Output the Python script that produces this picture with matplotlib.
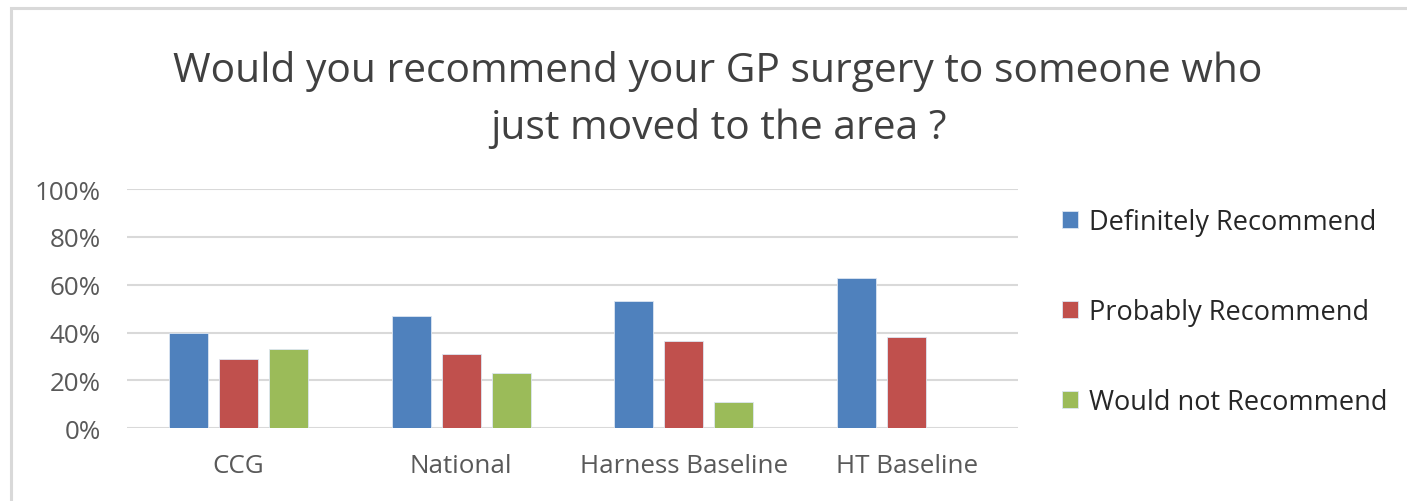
import numpy as np
import matplotlib
matplotlib.use("Agg")
import matplotlib.pyplot as plt
from matplotlib.patches import Rectangle
from matplotlib.ticker import PercentFormatter

plt.rcParams['font.family'] = ['Open Sans', 'DejaVu Sans']

categories = ["CCG", "National", "Harness Baseline", "HT Baseline"]
series = ["Definitely Recommend", "Probably Recommend", "Would not Recommend"]
definitely = [40, 47, 53, 63]
probably = [29, 31, 36.5, 38]
would_not = [33, 23, 11, 0]
values = [definitely, probably, would_not]
colors = ["#4F81BD", "#C0504D", "#9BBB59"]

W, H = 1407, 502
fig = plt.figure(figsize=(W / 100, H / 100), dpi=100)
fig.patch.set_facecolor("white")

# light frame, only top and left edges visible (chart is cropped)
fig.patches.append(Rectangle((11 / W, -0.2), 1.5, 0.2 + (H - 9) / H,
                             transform=fig.transFigure, fill=False,
                             ec="#D9D9D9", lw=2.2, zorder=0))

left, right, top, bottom = 127, 1018, 190, 429.3
ax = fig.add_axes([left / W, (H - bottom) / H, (right - left) / W, (bottom - top) / H])

x = np.arange(len(categories))
offset, width = 0.224, 0.175
for i, (vals, name, c) in enumerate(zip(values, series, colors)):
    ax.bar(x + (i - 1) * offset, vals, width, color=c, label=name,
           edgecolor="#DCE6F2", linewidth=0.6, zorder=3)

ax.set_xlim(-0.5, len(categories) - 0.5)
ax.set_ylim(0, 100)
ax.set_yticks(range(0, 101, 20))
ax.yaxis.set_major_formatter(PercentFormatter(decimals=0))
ax.set_xticks(x)
ax.set_xticklabels(categories)
ax.grid(axis="y", color="#D9D9D9", lw=1.5, zorder=0)
ax.set_axisbelow(True)
for s in ax.spines.values():
    s.set_visible(False)
ax.tick_params(axis="both", length=0, labelsize=18.7, colors="#595959")
ax.tick_params(axis="x", pad=18)
ax.tick_params(axis="y", pad=19)

fig.text(718 / W, 1 - 100 / H,
         "Would you recommend your GP surgery to someone who\njust moved to the area ?",
         ha="center", va="center", fontsize=29.3, color="#404040", linespacing=1.5)

fig.legend(loc="center left", bbox_to_anchor=(1051 / W, 1 - 313 / H),
           frameon=False, fontsize=19.5, labelcolor="#262626",
           borderaxespad=0, handlelength=0.6, handleheight=0.6,
           handletextpad=0.4, labelspacing=2.3)

fig.savefig("out.png", dpi=100)
